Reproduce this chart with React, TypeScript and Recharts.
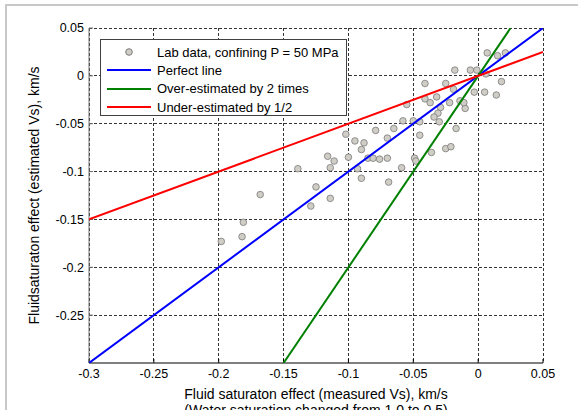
import React from "react";
import {
  ComposedChart,
  Scatter,
  XAxis,
  YAxis,
  CartesianGrid,
  Legend,
  Label,
} from "recharts";

// Lab measurements: measured Vs effect (x) vs estimated Vs effect (y), km/s
const labX = [
  0.007, 0.015, 0.021, -0.018, -0.006, -0.001, 0.006, 0.018, 0.005, 0.014,
  -0.003, -0.041, -0.025, -0.019, -0.014, -0.01, -0.011, -0.041, -0.037, -0.032,
  -0.029, -0.031, -0.034, -0.03, -0.022, -0.055, -0.058, -0.05, -0.045, -0.045,
  -0.017, -0.065, -0.079, -0.07, -0.102, -0.095, -0.088, -0.09, -0.1, -0.085,
  -0.081, -0.076, -0.07, -0.049, -0.048, -0.036, -0.025, -0.021, -0.059, -0.069,
  -0.09, -0.093, -0.116, -0.111, -0.114, -0.139, -0.125, -0.114, -0.129, -0.168,
  -0.181, -0.182, -0.198,
];
const labY = [
  0.024, 0.021, 0.024, 0.006, 0.006, 0.006, 0.002, -0.006, -0.017, -0.02,
  -0.017, -0.008, -0.008, -0.014, -0.026, -0.034, -0.028, -0.024, -0.028, -0.022,
  -0.033, -0.039, -0.043, -0.048, -0.028, -0.03, -0.047, -0.047, -0.048, -0.062,
  -0.055, -0.055, -0.057, -0.065, -0.061, -0.068, -0.07, -0.077, -0.085, -0.086,
  -0.086, -0.087, -0.086, -0.086, -0.089, -0.08, -0.076, -0.074, -0.096, -0.111,
  -0.107, -0.097, -0.084, -0.089, -0.096, -0.097, -0.116, -0.128, -0.136, -0.124,
  -0.153, -0.168, -0.173,
];

// Reference lines (end points)
const perfectX = [-0.3, 0.05];
const perfectY = [-0.3, 0.05];
const overX = [-0.15, 0.025];
const overY = [-0.3, 0.05];
const underX = [-0.3, 0.05];
const underY = [-0.15, 0.025];

const xTicks = [-0.3, -0.25, -0.2, -0.15, -0.1, -0.05, 0, 0.05];
const yTicks = [-0.25, -0.2, -0.15, -0.1, -0.05, 0, 0.05];

const FONT = "Arial, 'Liberation Sans', sans-serif";

const toPoints = (xs: number[], ys: number[]) =>
  xs.map((x, i) => ({ x, y: ys[i] }));

const labData = toPoints(labX, labY);
const perfectData = toPoints(perfectX, perfectY);
const overData = toPoints(overX, overY);
const underData = toPoints(underX, underY);

const legendItems = [
  { label: "Lab data, confining P = 50 MPa", color: "", marker: true },
  { label: "Perfect line", color: "#0000ff", marker: false },
  { label: "Over-estimated by 2 times", color: "#008000", marker: false },
  { label: "Under-estimated by 1/2", color: "#ff0000", marker: false },
];

function LegendBox() {
  return (
    <div
      style={{
        width: 247,
        height: 77,
        background: "#fff",
        border: "1px solid #404040",
        fontFamily: FONT,
        fontSize: 13,
        color: "#000",
        paddingTop: 3,
        boxSizing: "border-box",
        textAlign: "left",
      }}
    >
      {legendItems.map((it) => (
        <div
          key={it.label}
          style={{ display: "flex", alignItems: "center", height: 18.3 }}
        >
          <div style={{ width: 56, display: "flex", justifyContent: "center" }}>
            {it.marker ? (
              <svg width={10} height={10} style={{ display: "block" }}>
                <circle cx={5} cy={5} r={3.3} fill="#d0cdc6" stroke="#7a7a7a" />
              </svg>
            ) : (
              <div style={{ width: 44, height: 2, background: it.color }} />
            )}
          </div>
          <span>{it.label}</span>
        </div>
      ))}
    </div>
  );
}

const Dot = (props: any) => {
  const { cx, cy } = props;
  if (cx == null || cy == null) return null;
  return <circle cx={cx} cy={cy} r={3.3} fill="#d0cdc6" stroke="#7a7a7a" strokeWidth={0.8} />;
};

const NoDot = () => null;

const fmt = (v: number) => String(v);

const XLabel = (props: any) => {
  const { viewBox } = props;
  const cx = viewBox.x + viewBox.width / 2;
  return (
    <text x={cx} textAnchor="middle" fontFamily={FONT} fontSize={14} fill="#000">
      <tspan x={cx} y={399}>Fluid saturaton effect (measured Vs), km/s</tspan>
      <tspan x={cx} y={415}>(Water saturation changed from 1.0 to 0.5)</tspan>
    </text>
  );
};

export default function App() {
  return (
    <div
      style={{
        position: "absolute",
        left: 0,
        top: 0,
        width: 578,
        height: 410,
        background: "#fff",
        overflow: "hidden",
      }}
    >
      <div
        style={{
          position: "absolute",
          left: 5,
          top: 4,
          right: 0,
          bottom: 0,
          borderLeft: "2px solid #c8c8c8",
          borderTop: "2px solid #c8c8c8",
        }}
      />
      <ComposedChart
        width={578}
        height={410}
        margin={{ top: 28, right: 35, left: 0, bottom: 0 }}
        style={{ position: "absolute", left: 0, top: 0 }}
      >
        <CartesianGrid
          stroke="#333"
          strokeDasharray="3 2"
          shapeRendering="crispEdges"
          horizontalValues={yTicks}
          verticalValues={xTicks}
        />
        <XAxis
          type="number"
          dataKey="x"
          domain={[-0.3, 0.05]}
          ticks={xTicks}
          tickFormatter={fmt}
          allowDataOverflow
          height={47}
          stroke="#000"
          tickSize={-4}
          tickMargin={10}
          tick={{ fontSize: 12.5, fill: "#000", fontFamily: FONT }}
        >
          <Label content={<XLabel />} />
        </XAxis>
        <XAxis
          xAxisId="t"
          orientation="top"
          type="number"
          dataKey="x"
          domain={[-0.3, 0.05]}
          ticks={xTicks}
          allowDataOverflow
          height={0}
          stroke="#707070"
          tickSize={-4}
          tick={false}
        />
        <YAxis
          type="number"
          dataKey="y"
          domain={[-0.3, 0.05]}
          ticks={yTicks}
          tickFormatter={fmt}
          allowDataOverflow
          width={89}
          stroke="#707070"
          tickSize={-4}
          tickMargin={9}
          tick={{ fontSize: 12.5, fill: "#000", fontFamily: FONT }}
        >
          <Label
            value="Fluidsaturaton effect (estimated Vs), km/s"
            angle={-90}
            position="insideLeft"
            offset={0}
            dx={34}
            style={{ fontSize: 14, fill: "#000", fontFamily: FONT, textAnchor: "middle" }}
          />
        </YAxis>
        <YAxis
          yAxisId="r"
          orientation="right"
          type="number"
          dataKey="y"
          domain={[-0.3, 0.05]}
          ticks={yTicks}
          allowDataOverflow
          width={0}
          stroke="#000"
          tickSize={-4}
          tick={false}
        />
        <Scatter data={labData} shape={<Dot />} isAnimationActive={false} />
        <Scatter
          data={perfectData}
          line={{ stroke: "#0000ff", strokeWidth: 2 }}
          shape={<NoDot />}
          isAnimationActive={false}
        />
        <Scatter
          data={overData}
          line={{ stroke: "#008000", strokeWidth: 2 }}
          shape={<NoDot />}
          isAnimationActive={false}
        />
        <Scatter
          data={underData}
          line={{ stroke: "#ff0000", strokeWidth: 2 }}
          shape={<NoDot />}
          isAnimationActive={false}
        />
        <Legend
          content={<LegendBox />}
          layout="horizontal"
          verticalAlign="middle"
          align="center"
          wrapperStyle={{ left: 100, top: 39, width: 247, height: 77 }}
        />
      </ComposedChart>
    </div>
  );
}
